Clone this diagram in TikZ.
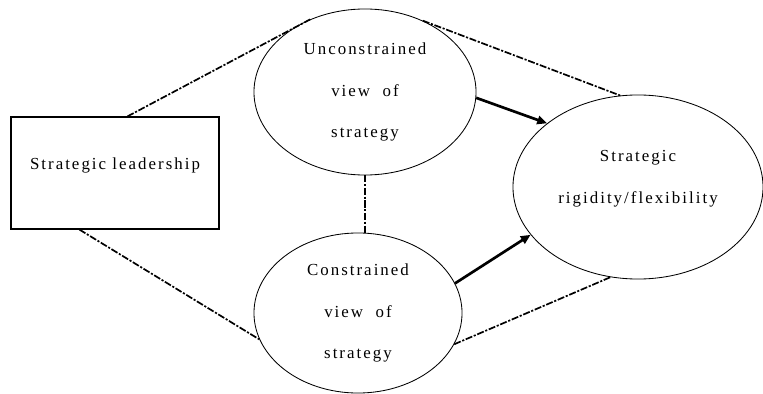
\documentclass[tikz,border=0pt]{standalone}
\usepackage{fontspec}
\setmainfont{Liberation Serif}
\newfontfamily\spacedfont[LetterSpace=12]{Liberation Serif}
\usepackage{tikz}
\usetikzlibrary{arrows.meta,positioning,shapes.geometric}

\begin{document}
\begin{tikzpicture}[
    x=0.025cm, y=-0.025cm,
    box/.style={rectangle, draw, line width=0.8pt, minimum width=5.2cm,
                minimum height=2.8cm, align=center, text depth=13pt,
                font=\spacedfont\fontsize{12}{30}\selectfont},
    view/.style={ellipse, draw, line width=0.6pt, inner sep=0pt, align=center,
                 font=\spacedfont\fontsize{12}{29.8}\selectfont},
    link/.style={line width=1.2pt, dash pattern=on 5pt off 1.2pt on 1.5pt off 1.2pt},
    effect/.style={-{Triangle[length=7pt,width=6pt]}, line width=1.9pt},
]
    \useasboundingbox (0,0) rectangle (763,394);

    % Leadership box
    \node[box] (lead) at (115,173) {Strategic leadership};

    % Views of strategy
    \node[view, minimum width=5.55cm, minimum height=4.15cm] (uncon) at (365,92)
        {Unconstrained\\view\ \ of\\strategy};
    \node[view, minimum width=5.2cm, minimum height=4cm] (con) at (358,313)
        {Constrained\\view\ \ of\\strategy};

    % Outcome
    \node[view, minimum width=6.25cm, minimum height=4.6cm] (rigid) at (638,187) {};
    \node[font=\spacedfont\fontsize{12}{29.8}\selectfont, align=center]
        (rigidtext) at (638,179) {Strategic\\rigidity/flexibility};

    % Dashed links
    \draw[link] (lead.north west)++(117,0) coordinate (leadtop) -- (uncon.127);
    \draw[link] (uncon.51) -- (rigid.101);
    \draw[link] (lead.south west)++(69,0) coordinate (leadbot) -- (con.195);
    \draw[link] (con.342) -- (rigid.253);
    \draw[link] (uncon.south) -- (uncon.south |- con.north);

    % Effects
    \draw[effect] (uncon.-3) -- (rigid.145);
    \draw[effect] (con.17) -- (rigid.204);
\end{tikzpicture}
\end{document}
